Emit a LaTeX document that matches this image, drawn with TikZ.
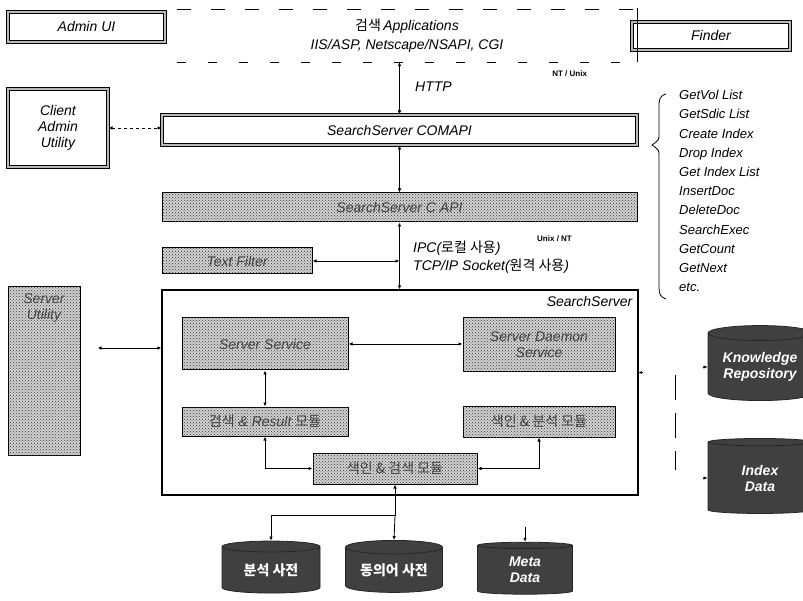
\documentclass[tikz,border=0pt]{standalone}
\usepackage{fontspec}
\setmainfont{Liberation Sans}
\newfontfamily\kr{Noto Sans CJK KR}
\usetikzlibrary{arrows.meta,patterns,shapes.geometric,calc}
\begin{document}
\begin{tikzpicture}[x=1pt,y=-1pt,
  base/.style={font=\itshape\fontsize{14}{16}\selectfont, align=center, inner sep=0pt},
  dbox/.style={base, draw=black, line width=1pt, double=gray!55, double distance=1.6pt},
  wbox/.style={base, draw=black, line width=1.2pt},
  hbox/.style={base, draw=black, line width=1pt, fill=gray!35,
     postaction={pattern=crosshatch dots, pattern color=black!80}, text=black!75},
  cyl/.style={base, cylinder, shape border rotate=90, aspect=0.2, draw=gray!30!black, line width=0.8pt,
     fill=gray!50!black, text=white, font=\bfseries\itshape\fontsize{14}{16}\selectfont},
  conn/.style={line width=0.8pt, {Latex[length=4pt,width=3.5pt]}-{Latex[length=4pt,width=3.5pt]}},
  one/.style={line width=0.8pt, -{Latex[length=4pt,width=3.5pt]}},
  smalltxt/.style={font=\fontsize{8}{9}\selectfont\bfseries, inner sep=0pt}
]
\useasboundingbox (0,0) rectangle (803,601);

% top row
\node[dbox, minimum width=157pt, minimum height=30pt] (adminui) at (86.5,27) {Admin UI};
\node[dbox, minimum width=158pt, minimum height=28pt] (finder) at (711,36) {Finder};
\node[base, minimum width=460pt, minimum height=52pt] (apps) at (407,36)
  {{\kr 검색}\,Applications\\[3pt]IIS/ASP, Netscape/NSAPI, CGI};
\draw[dash pattern=on 14pt off 20pt, line width=0.9pt] (apps.north west) -- (apps.north east);
\draw[dash pattern=on 9pt off 22pt, line width=0.9pt] (apps.south west) -- (apps.south east);
\draw[line width=0.8pt] ([yshift=2pt]apps.north east) -- (apps.south east);
\node[smalltxt, anchor=north east] (nt1) at ([xshift=-50pt, yshift=-8pt]apps.south east) {NT / Unix};
\node[base, anchor=west] (http) at (415,87) {HTTP};

% COM API row
\node[dbox, minimum width=100pt, minimum height=78pt] (client) at (58,128) {Client\\Admin\\Utility};
\node[dbox, minimum width=475pt, minimum height=30pt] (comapi) at (399.5,130) {SearchServer COMAPI};

% C API
\node[hbox, minimum width=475pt, minimum height=29pt] (capi) at (399.5,207.5) {SearchServer C API};
\node[hbox, minimum width=150pt, minimum height=26pt] (textfilter) at (237,261) {Text Filter};
\node[base, anchor=west, align=left] (ipc) at (413,257)
  {IPC({\kr 로컬 사용})\\[2pt]TCP/IP Socket({\kr 원격 사용})};
\node[smalltxt, anchor=west] (nt2) at (537,239) {Unix / NT};

% API list with brace
\draw[line width=0.8pt] (666,94) .. controls (659,96) and (659,100) .. (659,108)
  -- (659,134) .. controls (659,140) .. (652,145) .. controls (659,150) .. (659,156)
  -- (659,288) .. controls (659,295) and (661,297) .. (666,299);
\node[base, anchor=north west, align=left, font=\itshape\fontsize{13}{19.2}\selectfont] (list) at (679,90)
  {GetVol List\\GetSdic List\\Create Index\\Drop Index\\Get Index List\\InsertDoc\\DeleteDoc\\SearchExec\\GetCount\\GetNext\\etc.};

% SearchServer
\node[wbox, minimum width=476pt, minimum height=205pt] (ss) at (400,392.5) {};
\node[base, anchor=north east] (sslabel) at ([xshift=-6pt, yshift=-7pt]ss.north east) {SearchServer};
\node[hbox, minimum width=72pt, minimum height=168pt,
  label={[base, anchor=north, text=black!75, yshift=-7pt]north:Server\\Utility}] (serverutil) at (44,371) {};
\node[hbox, minimum width=166pt, minimum height=52pt] (service) at (265,344) {Server Service};
\node[hbox, minimum width=152pt, minimum height=54pt] (daemon) at (539,345) {Server Daemon\\Service};
\node[hbox, minimum width=166pt, minimum height=29pt] (result) at (265,421.5) {{\kr 검색} \& Result {\kr 모듈}};
\node[hbox, minimum width=152pt, minimum height=31pt] (analysis) at (539,421.5) {{\kr 색인 \& 분석 모듈}};
\node[hbox, minimum width=164pt, minimum height=31pt] (index) at (395,468.5) {{\kr 색인 \& 검색 모듈}};

% databases
\node[cyl, minimum width=98pt, minimum height=52pt] (dict) at (271,570) {\kr 분석 사전};
\node[cyl, minimum width=97pt, minimum height=52pt] (syn) at (394,570) {\kr 동의어 사전};
\node[cyl, minimum width=95pt, minimum height=52pt] (meta) at (525,570) {Meta\\Data};
\node[cyl, minimum width=104pt, minimum height=75pt] (know) at (760,367) {Knowledge\\Repository};
\node[cyl, minimum width=104pt, minimum height=75pt] (idata) at (760,478) {Index\\Data};

% connectors
\draw[conn, line width=0.5pt] (comapi.north |- apps.south) -- (comapi.north);
\draw[conn, line width=0.5pt] (comapi.south) -- (capi.north);
\draw[conn] (capi.south) -- (capi.south |- ss.north);
\draw[conn] (textfilter.east) -- (textfilter.east -| capi.south);
\draw[conn, dashed] (client.east) -- (client.east -| comapi.west);
\draw[conn] ([xshift=17pt]serverutil.east |- 0,348) -- (ss.west |- 0,348);
\draw[conn] (service.east) -- (service.east -| daemon.west);
\draw[conn] (service.south) -- (result.north);
\draw[conn] (result.south) |- (index.west);
\draw[conn] (analysis.south) |- (index.east);
\draw[line width=0.8pt, {Latex[length=4pt,width=3.5pt]}-] (index.south) -- ++(0,31) coordinate (j);
\draw[one] (j) -| (dict.north);
\draw[one] (j) -- (syn.north);
\draw[one] ([yshift=15pt]meta.north) -- (meta.north);

% right side dashed link
\draw[line width=0.8pt, dash pattern=on 25pt off 13pt] (675,375) -- (675,470);
\draw[line width=0.6pt, {Latex[length=3pt,width=3pt]}-] ([yshift=20pt]ss.east) -- ++(4,0);
\draw[line width=0.6pt, -{Latex[length=4pt,width=3.5pt]}] ([xshift=-5pt]know.west) -- (know.west);
\draw[line width=0.6pt, -{Latex[length=4pt,width=3.5pt]}] ([xshift=-5pt]idata.west) -- (idata.west);
\end{tikzpicture}
\end{document}
